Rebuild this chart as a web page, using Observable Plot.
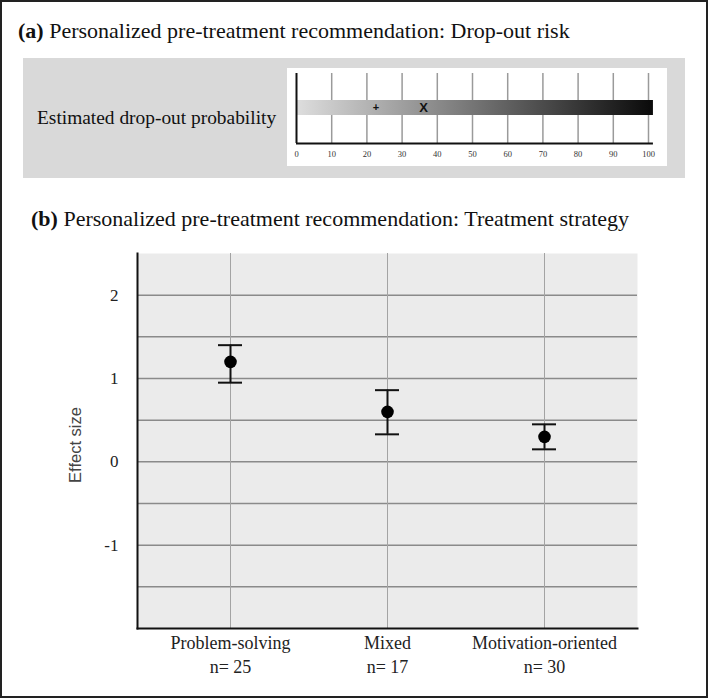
<!DOCTYPE html>
<html>
<head>
<meta charset="utf-8">
<script src="https://cdn.jsdelivr.net/npm/d3@7"></script>
<script src="https://cdn.jsdelivr.net/npm/@observablehq/plot@0.6"></script>
<style>
  body { margin: 0; background: #fff; }
  #wrap { position: relative; width: 708px; height: 698px; overflow: hidden; background: #fff;
          font-family: "Liberation Serif", "Times New Roman", serif; color: #111; }
  #frame { position: absolute; left: 0; top: 0; width: 708px; height: 698px; box-sizing: border-box;
           border: 2px solid #222; pointer-events: none; }
  .title { position: absolute; font-size: 22px; line-height: 1; white-space: nowrap; }
  #panelA { position: absolute; left: 23px; top: 58px; width: 662px; height: 120px; background: #d9d9d9; }
  #labelA { position: absolute; left: 37px; top: 108px; font-size: 19.4px; line-height: 1; white-space: nowrap; }
  #chartA { position: absolute; left: 287px; top: 68px; }
  #chartB { position: absolute; left: 0; top: 240px; }
</style>
</head>
<body>
<div id="wrap">
  <div class="title" style="left:18px;top:20px;"><b>(a)</b> Personalized pre-treatment recommendation: Drop-out risk</div>
  <div id="panelA"></div>
  <div id="labelA">Estimated drop-out probability</div>
  <div id="chartA"></div>
  <div class="title" style="left:31px;top:208px;"><b>(b)</b> Personalized pre-treatment recommendation: Treatment strategy</div>
  <div id="chartB"></div>
  <div id="frame"></div>
</div>
<script>
// ---- Panel (a) data ----
const dropTicks = [0, 10, 20, 30, 40, 50, 60, 70, 80, 90, 100];
const dropBarEnd = 101.4;
const dropMarkers = [
  { symbol: "+", value: 22.6 },
  { symbol: "X", value: 36.1 }
];

// ---- Panel (b) data ----
const strategies = ["Problem-solving", "Mixed", "Motivation-oriented"];
const sampleSizes = [25, 17, 30];
const effectSize = [1.2, 0.6, 0.3];
const ciLow = [0.95, 0.33, 0.15];
const ciHigh = [1.4, 0.86, 0.45];
const effectTicks = [-1, 0, 1, 2];
const effectGrid = [-1.5, -1, -0.5, 0, 0.5, 1, 1.5, 2];

const serif = "Liberation Serif, Times New Roman, serif";
const sans = "Liberation Sans, Arial, sans-serif";

// ---- Chart (a) ----
const chartA = Plot.plot({
  width: 380, height: 98,
  marginLeft: 9, marginRight: 19, marginTop: 5, marginBottom: 23,
  style: { background: "#fff", fontFamily: serif, color: "#333", overflow: "visible" },
  x: { domain: [0, 100] },
  y: { domain: [0, 1], axis: null },
  marks: [
    Plot.ruleX(dropTicks.filter(d => d > 0), { stroke: "#9a9a9a", strokeWidth: 1.5 }),
    Plot.barX([dropBarEnd], { x1: 0, x2: d => d, fill: "url(#dropGrad)", insetTop: 27, insetBottom: 28 }),
    Plot.ruleX([0], { stroke: "#111", strokeWidth: 2 }),
    Plot.ruleY([0], { stroke: "#111", strokeWidth: 2, x1: 0, x2: dropBarEnd }),
    Plot.text(dropMarkers, {
      x: "value", text: "symbol", fontFamily: sans, fontWeight: "bold",
      fontSize: d => d.symbol === "+" ? 11 : 13, fill: "#111", dy: -1
    }),
    Plot.axisX({ ticks: dropTicks, tickSize: 0, tickPadding: 7, fontSize: 8.5, fontFamily: serif, fill: "#333", label: null, tickFormat: d => String(d) })
  ]
});
d3.select(chartA).insert("defs", ":first-child").html(
  '<linearGradient id="dropGrad" x1="0" x2="1" y1="0" y2="0">' +
  '<stop offset="0" stop-color="#dedede"/><stop offset="1" stop-color="#0a0a0a"/></linearGradient>'
);
document.getElementById("chartA").appendChild(chartA);

// ---- Chart (b) ----
const rows = strategies.map((s, i) => ({
  strategy: s, n: sampleSizes[i], effect: effectSize[i], lo: ciLow[i], hi: ciHigh[i]
}));

const chartB = Plot.plot({
  width: 708, height: 450,
  marginLeft: 137, marginRight: 71, marginTop: 13, marginBottom: 62,
  style: { background: "transparent", fontFamily: serif, color: "#222", overflow: "visible" },
  x: { domain: strategies, paddingInner: 0.848, paddingOuter: 0.5115, axis: null },
  y: { domain: [-2, 2.5], axis: null },
  marks: [
    Plot.frame({ fill: "#ebebeb", stroke: null }),
    Plot.ruleY(effectGrid, { stroke: "#8a8a8a", strokeWidth: 1.5 }),
    Plot.ruleX(strategies, { x: d => d, stroke: "#a3a3a3", strokeWidth: 1 }),
    Plot.frame({ anchor: "left", stroke: "#111", strokeWidth: 2 }),
    Plot.frame({ anchor: "bottom", stroke: "#111", strokeWidth: 2 }),
    Plot.ruleX(rows, { x: "strategy", y1: "lo", y2: "hi", stroke: "#111", strokeWidth: 2 }),
    Plot.tickY(rows, { x: "strategy", y: "lo", stroke: "#111", strokeWidth: 2 }),
    Plot.tickY(rows, { x: "strategy", y: "hi", stroke: "#111", strokeWidth: 2 }),
    Plot.dot(rows, { x: "strategy", y: "effect", r: 6.3, fill: "#000", stroke: null }),
    Plot.axisY({ ticks: effectTicks, tickSize: 0, tickPadding: 19, fontSize: 17, fontFamily: serif, fill: "#222", label: null, tickFormat: d => String(d) }),
    Plot.axisX({
      tickSize: 0, tickPadding: 4, fontSize: 18, fontFamily: serif, fill: "#222", label: null, lineHeight: 1.3,
      tickFormat: d => `${d}\nn= ${sampleSizes[strategies.indexOf(d)]}`
    }),
    Plot.text(["Effect size"], {
      text: d => d, frameAnchor: "left", textAnchor: "middle", rotate: -90,
      dx: -62, dy: 4, fontFamily: sans, fontSize: 16.5, fill: "#444"
    })
  ]
});
document.getElementById("chartB").appendChild(chartB);
</script>
</body>
</html>
